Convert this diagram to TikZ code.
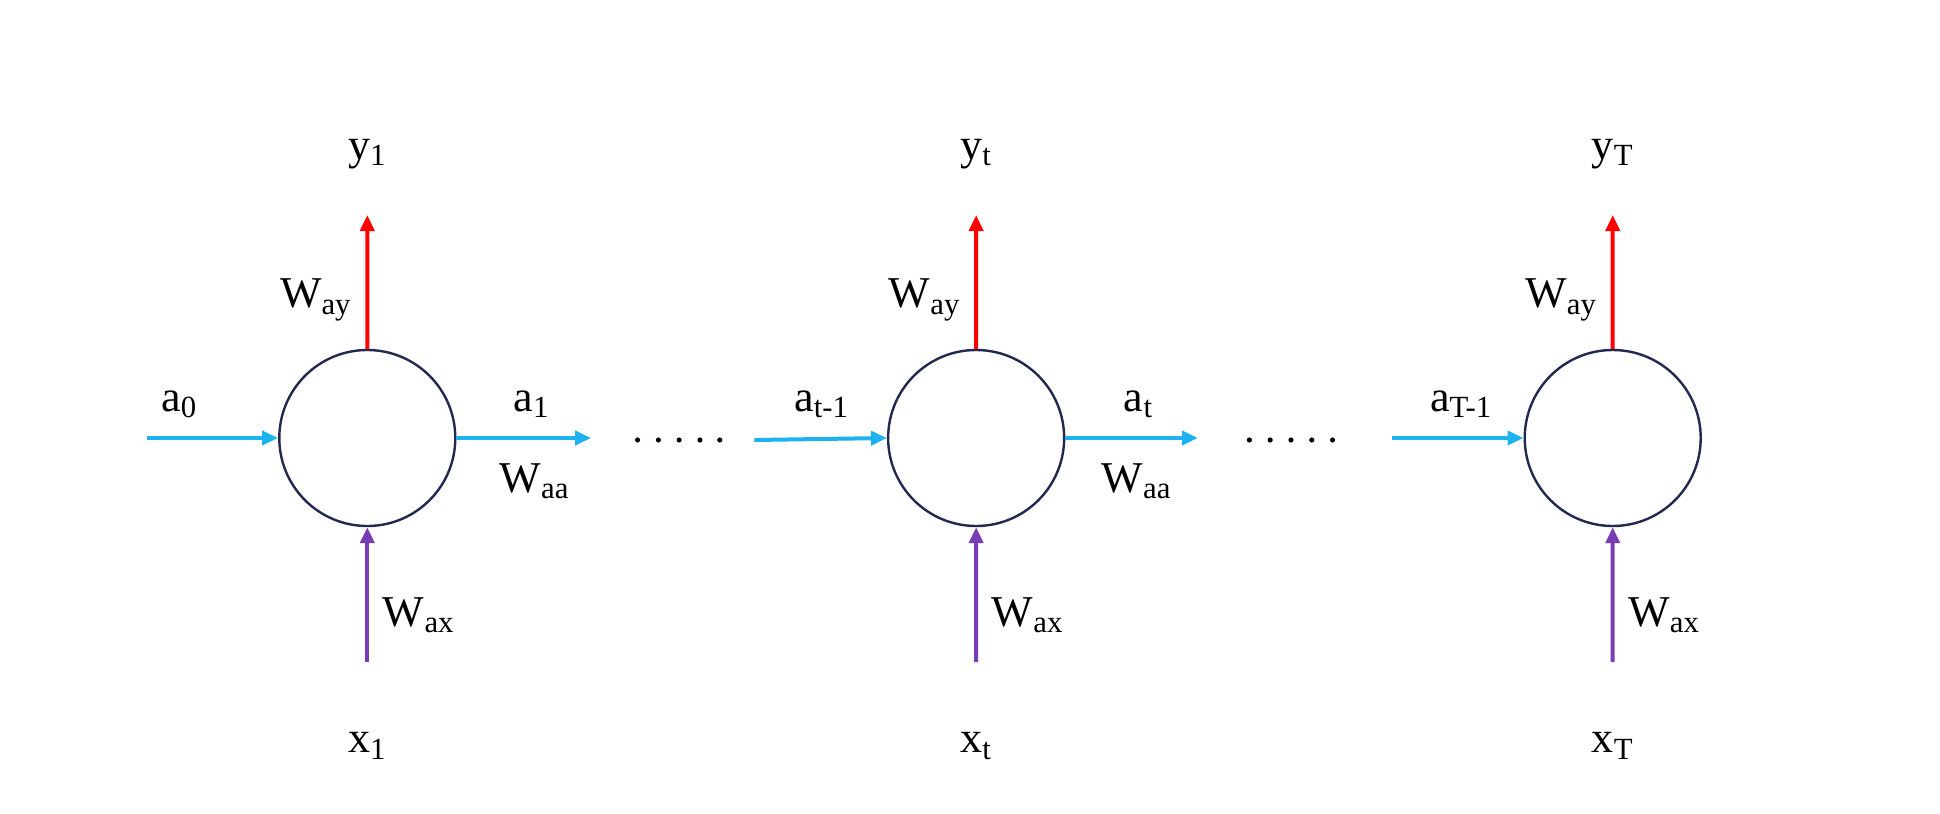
\documentclass[tikz,border=0pt]{standalone}
\usepackage{fontspec}
\setmainfont{Liberation Serif}
\usetikzlibrary{arrows.meta}
\definecolor{cyA}{RGB}{30,178,240}
\definecolor{puA}{RGB}{120,60,180}
\definecolor{ciA}{RGB}{35,40,80}
\begin{document}
\begin{tikzpicture}[x=0.5pt,y=-0.5pt,
  cell/.style={circle,draw=ciA,line width=1.2pt,minimum size=88pt,inner sep=0pt},
  lab/.style={font=\fontsize{22}{24}\selectfont,inner sep=1pt},
  arr/.style={line width=2pt,-{Triangle[length=8pt,width=7pt]}},
  cy/.style={arr,color=cyA},
  rd/.style={arr,color=red},
  pu/.style={arr,color=puA}]
\fill[white] (0,0) rectangle (1940,814);
\begin{scope}[xscale=0.99]
\foreach \n/\cx in {c1/371,c2/986,c3/1629}{
  \node[cell] (\n) at (\cx,438) {};
  \coordinate (\n top) at (\cx,215);
  \coordinate (\n bot) at (\cx,662);
  \draw[rd] (\n) -- (\n top);
  \draw[pu] (\n bot) -- (\n);
}
\node[lab] (y1) at (371,154) {y\textsubscript{1}};
\node[lab] (y2) at (986,154) {y\textsubscript{t}};
\node[lab] (y3) at (1629,154) {y\textsubscript{T}};
\node[lab] (x1) at (371,746) {x\textsubscript{1}};
\node[lab] (x2) at (986,746) {x\textsubscript{t}};
\node[lab] (x3) at (1629,746) {x\textsubscript{T}};
\foreach \cx/\n in {371/1,986/2,1629/3}{
  \node[lab] (way\n) at (\cx-52,300) {W\textsubscript{ay}};
  \node[lab] (wax\n) at (\cx+52,615) {W\textsubscript{ax}};
}
\coordinate (i1) at (148,438);
\coordinate (o1) at (597,438);
\coordinate (i2) at (762,440);
\coordinate (o2) at (1210,438);
\coordinate (i3) at (1406,438);
\draw[cy] (i1) -- (c1.west);
\draw[cy] (c1.east) -- (o1);
\draw[cy] (i2) -- (c2.west);
\draw[cy] (c2.east) -- (o2);
\draw[cy] (i3) -- (c3.west);
\node[lab] (a0) at (181,404) {a\textsubscript{0}};
\node[lab] (a1) at (537,404) {a\textsubscript{1}};
\node[lab] (at1) at (830,404) {a\textsubscript{t-1}};
\node[lab] (at) at (1150,404) {a\textsubscript{t}};
\node[lab] (aT1) at (1476,404) {a\textsubscript{T-1}};
\node[lab] (waa1) at (540,481) {W\textsubscript{aa}};
\node[lab] (waa2) at (1148,481) {W\textsubscript{aa}};
\foreach \s in {644,665,686,707,727}{\fill (\s,440) circle (2.6);}
\foreach \s in {1262,1283,1304,1325,1346}{\fill (\s,440) circle (2.6);}
\end{scope}
\end{tikzpicture}
\end{document}
